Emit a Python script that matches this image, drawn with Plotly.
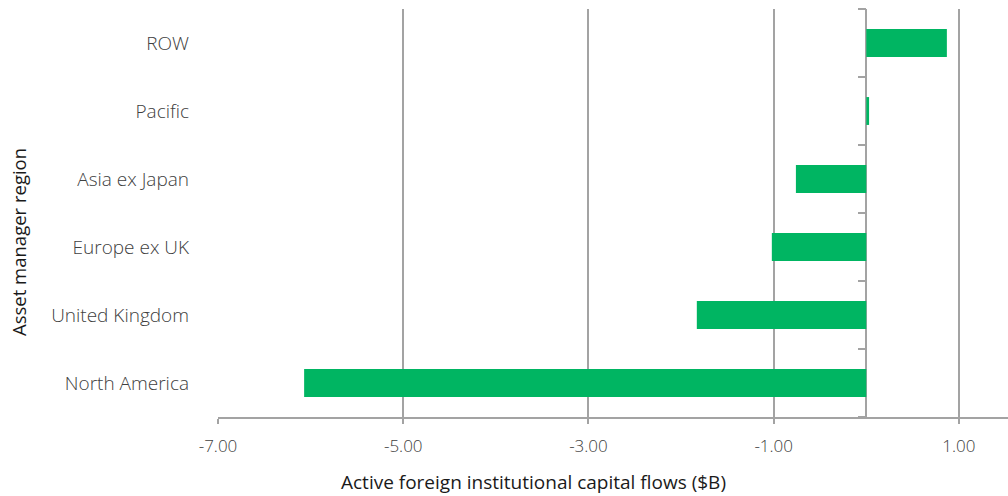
import plotly.graph_objects as go

# Asset manager regions, bottom to top
regions = ["North America", "United Kingdom", "Europe ex UK", "Asia ex Japan", "Pacific", "ROW"]
flows = [-6.07, -1.83, -1.02, -0.76, 0.03, 0.87]  # $B

x_min, x_max = -7.0, 1.53
x_ticks = [-7, -5, -3, -1, 1]

bar_green = "#00b562"
grid_grey = "#a3a3a3"
text_grey = "#404040"
title_dark = "#1a1a1a"
font_family = "Open Sans"

fig = go.Figure()
fig.add_trace(go.Bar(
    y=regions, x=flows, orientation="h",
    marker=dict(color=bar_green, line=dict(width=0)),
    yaxis="y", hoverinfo="x+y",
))
# helper trace on the overlay axis that carries the boundary ticks at zero
fig.add_trace(go.Scatter(
    y=regions, x=[0] * len(regions), mode="markers",
    marker=dict(opacity=0, size=1), yaxis="y2",
    hoverinfo="skip", showlegend=False,
))

zero_pos = (0 - x_min) / (x_max - x_min)

plot_top, plot_bottom, plot_left, plot_right = 9, 417, 218, 1008
plot_w = plot_right - plot_left
plot_h = plot_bottom - plot_top

fig.update_layout(
    width=1008, height=496,
    margin=dict(l=plot_left, r=1008 - plot_right, t=plot_top, b=496 - plot_bottom),
    plot_bgcolor="white", paper_bgcolor="white",
    showlegend=False,
    bargap=0.59,
    font=dict(family=font_family, color=text_grey, size=16),
    xaxis=dict(
        range=[x_min, x_max],
        tickmode="array", tickvals=x_ticks,
        ticktext=[f"{v:.2f}" for v in x_ticks],
        showgrid=True, gridcolor=grid_grey, gridwidth=2,
        zeroline=True, zerolinecolor=grid_grey, zerolinewidth=2,
        showline=True, linecolor=grid_grey, linewidth=2,
        ticks="outside", ticklen=5, tickcolor=grid_grey, tickwidth=2,
        ticklabelstandoff=8,
        tickfont=dict(size=17, color=text_grey, weight=300),
    ),
    yaxis=dict(
        type="category", categoryorder="array", categoryarray=regions,
        range=[-0.5, len(regions) - 0.5],
        showgrid=False, zeroline=False, showline=False, ticks="",
        ticklabelstandoff=28,
        tickfont=dict(size=19, color=text_grey, weight=300),
    ),
    yaxis2=dict(
        type="category", categoryorder="array", categoryarray=regions,
        range=[-0.5, len(regions) - 0.5],
        overlaying="y", anchor="free", position=zero_pos, side="left",
        showline=False, showgrid=False, zeroline=False,
        ticks="outside", tickson="boundaries", ticklen=8,
        tickcolor=grid_grey, tickwidth=2, showticklabels=False,
    ),
    annotations=[
        dict(text="Active foreign institutional capital flows ($B)",
             xref="paper", yref="paper",
             x=(533 - plot_left) / plot_w, y=-(482 - plot_bottom) / plot_h,
             xanchor="center", yanchor="middle", showarrow=False,
             font=dict(size=19, color=title_dark)),
        dict(text="Asset manager region",
             xref="paper", yref="paper",
             x=-(plot_left - 18) / plot_w, y=(plot_bottom - 242) / plot_h,
             xanchor="center", yanchor="middle", textangle=-90, showarrow=False,
             font=dict(size=18.5, color=title_dark)),
    ],
)

fig.write_html("out.html")
